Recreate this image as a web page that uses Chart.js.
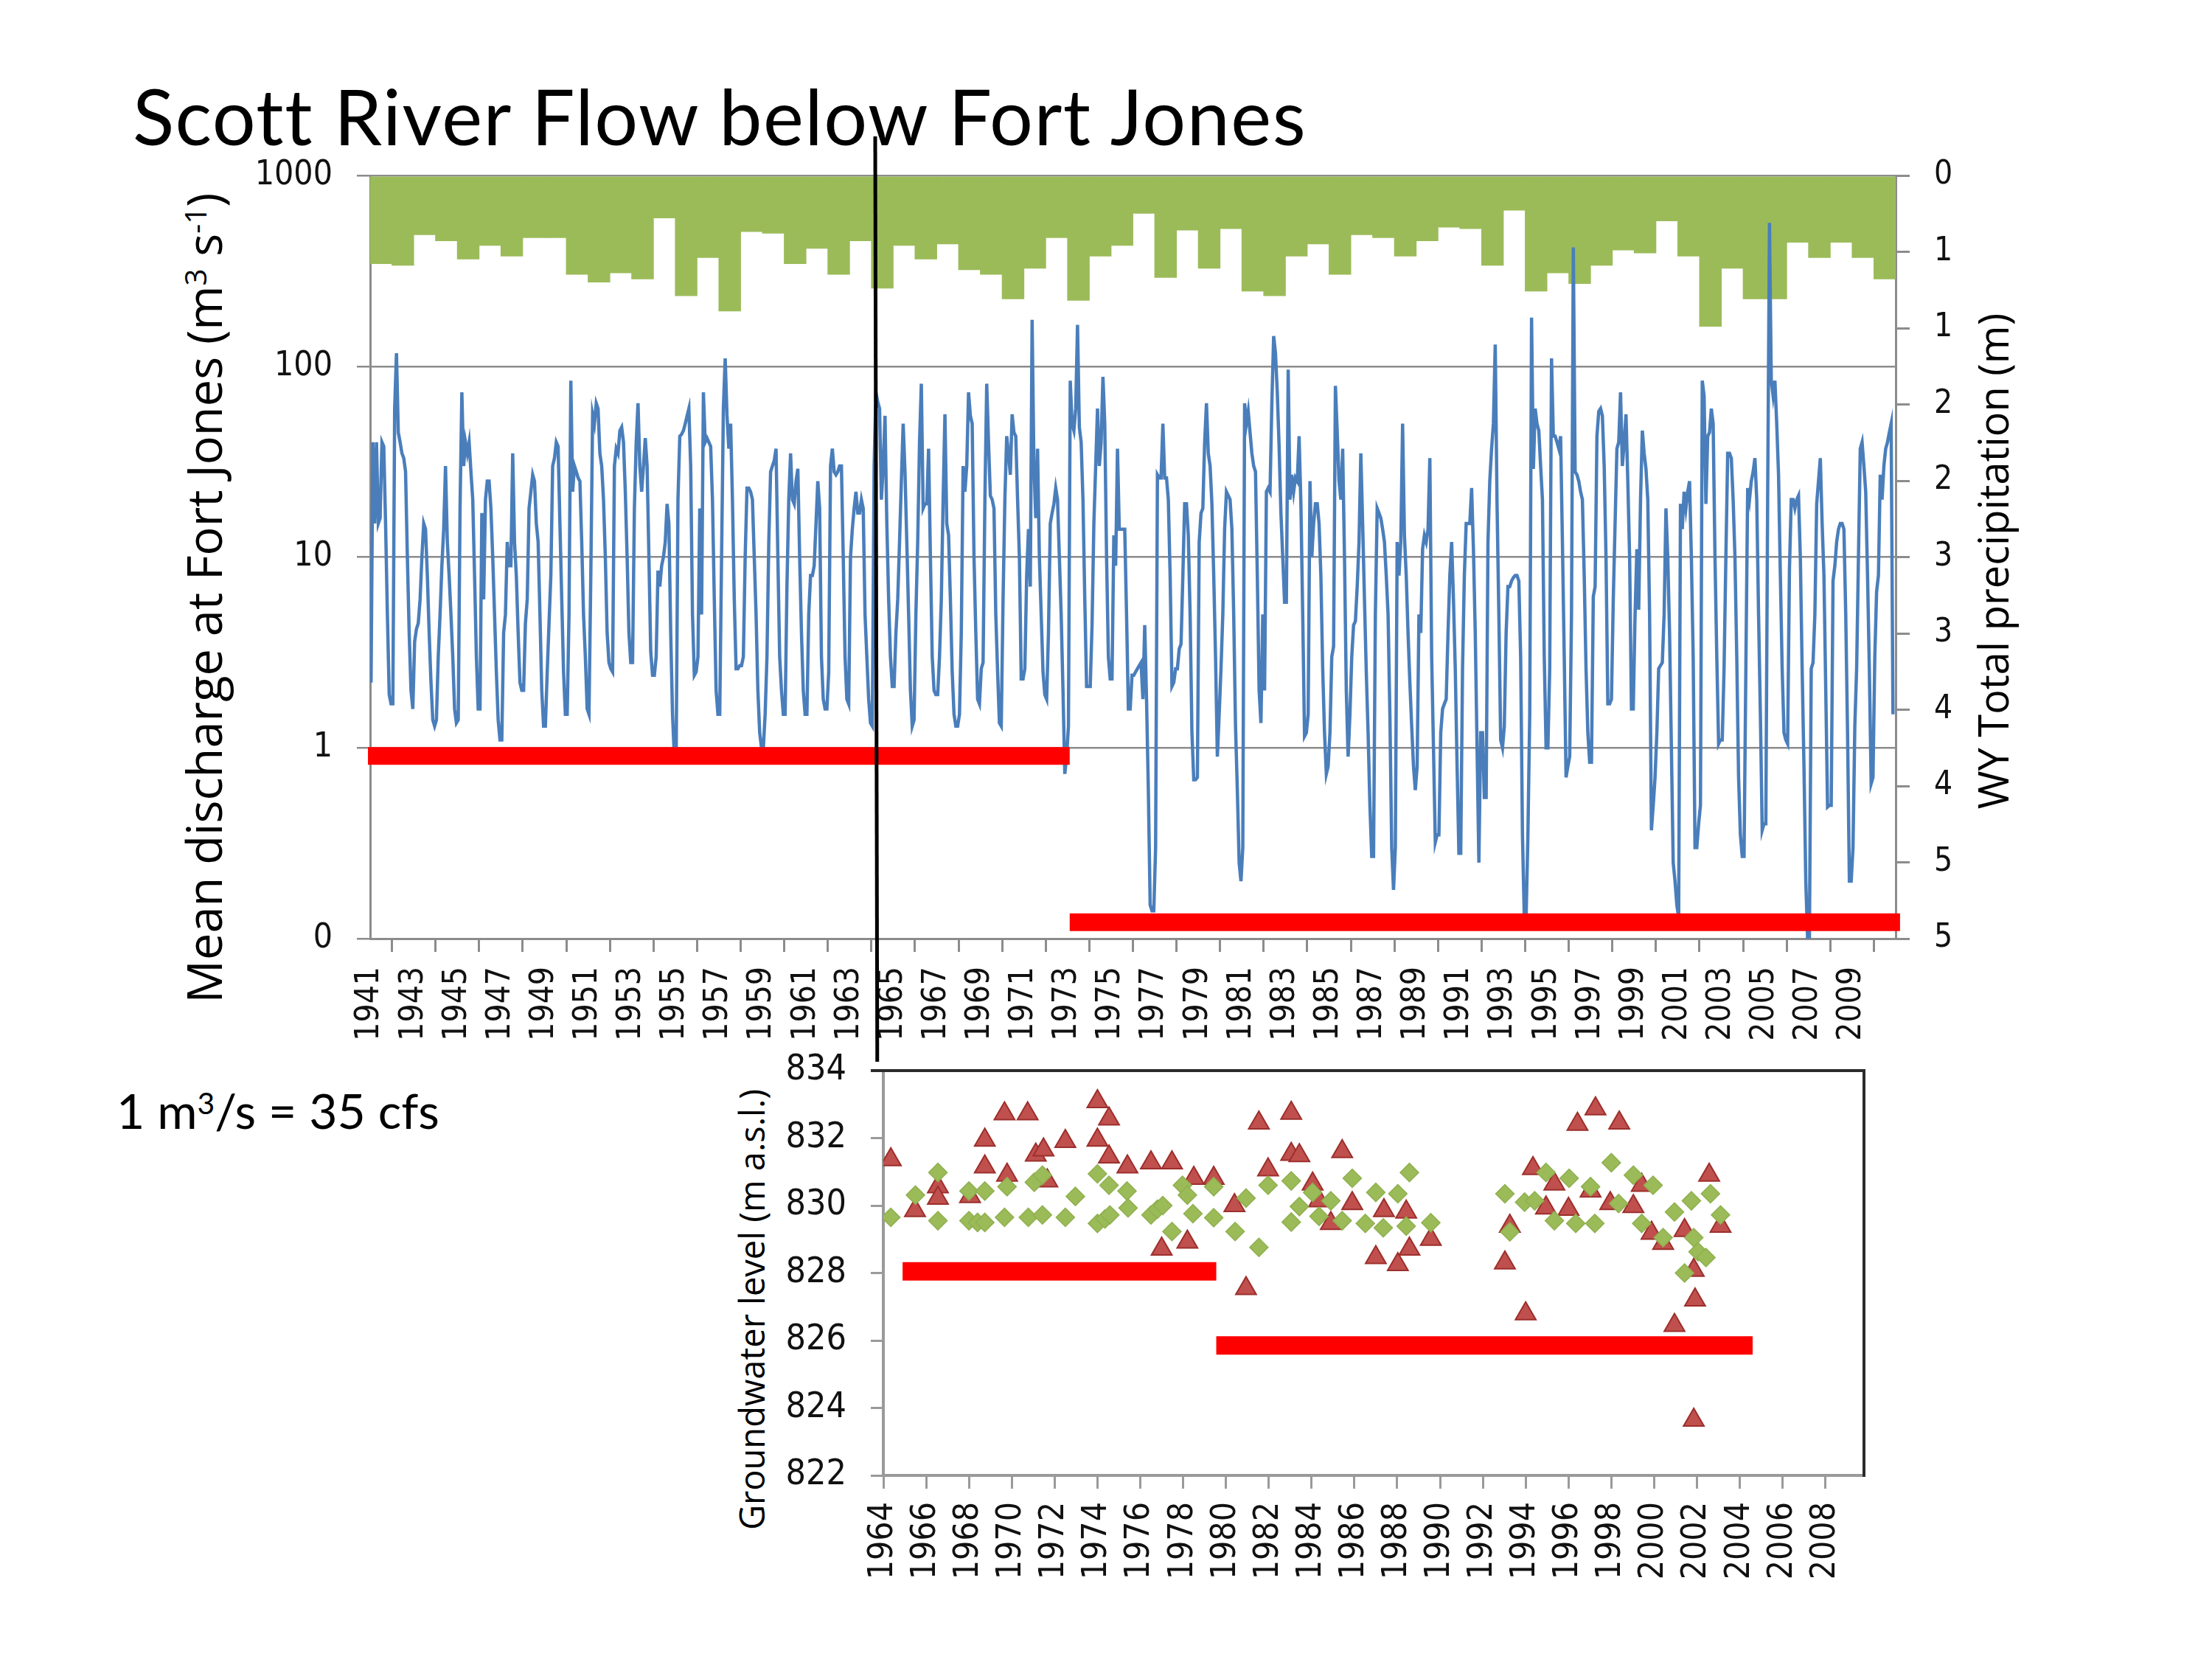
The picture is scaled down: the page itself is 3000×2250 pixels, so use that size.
<!DOCTYPE html>
<html><head><meta charset="utf-8">
<script src="https://cdn.jsdelivr.net/npm/chart.js@4.4.0/dist/chart.umd.min.js"></script>
<style>
html,body{margin:0;padding:0;background:#fff;}
#page{position:relative;width:3000px;height:2250px;overflow:hidden;background:#fff;}
canvas{position:absolute;}
#c1{left:0;top:0;z-index:3;}
#c2{left:900px;top:1420px;z-index:2;}
.txt{position:absolute;white-space:nowrap;line-height:1;color:#000;z-index:1;}
.rot{transform:translate(-50%,-50%) rotate(-90deg);}
sup{font-size:0.62em;vertical-align:0.5em;line-height:0;}
</style></head>
<body><div id="page">
<div class="txt" style="left:180px;top:105px;font-family:Lato;font-size:104px;letter-spacing:1.5px;">Scott River Flow below Fort Jones</div>
<div class="txt" style="left:158px;top:1473px;font-family:Lato;font-size:66px;">1 m<sup>3</sup>/s = 35 cfs</div>
<div class="txt rot" style="left:276px;top:811px;font-family:'Open Sans';font-size:65px;">Mean discharge at Fort Jones (m<sup>3</sup> s<sup>-1</sup>)</div>
<div class="txt rot" style="left:2702px;top:761px;font-family:'Open Sans';font-size:56px;">WY Total precipitation (m)</div>
<div class="txt rot" style="left:1019px;top:1776px;font-family:'Open Sans';font-size:47px;">Groundwater level (m a.s.l.)</div>
<canvas id="c1" width="3000" height="1460" style="width:3000px;height:1460px;"></canvas>
<canvas id="c2" width="1700" height="830" style="width:1700px;height:830px;"></canvas>
</div>
<script>
// ---------- DATA ----------
const years = [1941,1942,1943,1944,1945,1946,1947,1948,1949,1950,1951,1952,1953,1954,1955,1956,1957,1958,1959,1960,
  1961,1962,1963,1964,1965,1966,1967,1968,1969,1970,1971,1972,1973,1974,1975,1976,1977,1978,1979,1980,
  1981,1982,1983,1984,1985,1986,1987,1988,1989,1990,1991,1992,1993,1994,1995,1996,1997,1998,1999,2000,
  2001,2002,2003,2004,2005,2006,2007,2008,2009,2010];
// WY total precipitation (m), one per year
const precipitation = [0.58,0.59,0.39,0.43,0.55,0.46,0.53,0.41,0.41,0.65,0.70,0.64,0.68,0.28,0.79,0.54,0.89,0.37,0.38,0.58,
  0.48,0.65,0.43,0.74,0.46,0.55,0.45,0.62,0.65,0.81,0.61,0.41,0.82,0.53,0.46,0.25,0.67,0.36,0.61,0.35,
  0.76,0.79,0.53,0.45,0.65,0.39,0.41,0.53,0.43,0.34,0.35,0.59,0.23,0.76,0.64,0.71,0.59,0.49,0.51,0.30,
  0.53,0.99,0.61,0.81,0.81,0.44,0.54,0.44,0.54,0.68];
// Monthly mean discharge (m3/s), 12 values per year
const q1941_1950 = [
  2.2,40,15,40,15,16,40,38,15,5,1.9,1.7,
  1.7,60,117,45,40,35,33,28,10,4,2,1.6,
  3.6,4.2,4.5,6,10,15,14,8,4,2.2,1.4,1.3,
  1.4,3,5,9,14,30,12,8,5,3,1.6,1.35,
  1.4,18,73,30,40,35,40,28,20,8,3,1.6,
  1.6,17,6,20,25,25,18,10,5,2.5,1.4,1.1,
  1.1,4,5,12,9,9,35,12,8,4,2.2,2.0,
  2.0,4.5,6,18,22,27,25,15,12,5,2,1.3,
  1.3,2.5,4.5,8,30,33,40,38,15,6,2.5,1.5,
  1.5,5,84,22,30,28,26,25,12,5,3,1.6];
const q1951_1960 = [
  1.5,8,56,50,64,60,35,30,20,10,4,2.8,
  2.6,2.5,30,37,35,46,48,40,22,10,4,2.8,
  2.8,18,40,64,30,22,30,42,30,10,3.2,2.4,
  2.4,3,8.5,7,9,10,12,19,15,4,1.5,0.9,
  0.9,20,43,44,46,50,55,60,30,5,2.4,2.5,
  3,18,5,73,40,42,40,38,20,6,2,1.5,
  1.5,10,60,110,55,37,50,20,6,2.6,2.6,2.7,
  2.7,3,10,23,23,22,20,10,5,2,1.2,1.0,
  1.0,1.5,3,12,28,30,32,37,10,3,2,1.5,
  1.5,7,20,35,20,19,25,29,10,4,2,1.5];
const q1961_1970 = [
  1.5,5,8,8,9,15,25,18,3,1.8,1.6,1.6,
  2.5,30,37,28,27,28,30,30,10,3,1.8,1.7,
  10,14,18,22,17,17,20,18,5,3,1.8,1.35,
  1.3,30,73,65,60,20,30,55,15,6,3,2.1,
  2.1,4,6,12,25,50,28,12,5,2,1.3,1.4,
  5,12,40,81,18,19,19,37,10,3,2,1.9,
  1.9,3,6,20,56,15,13,6,2.5,1.5,1.3,1.3,
  1.5,4,30,22,30,73,55,50,10,4,1.8,1.7,
  2.6,2.8,20,81,40,21,20,18,5,2.5,1.35,1.3,
  6,20,43,35,27,56,45,43,20,10,2.3,2.3];
const q1971_1980 = [
  2.6,8,14,7,175,30,16,37,10,5,2.5,1.9,
  1.8,4,15,17,19,23,20,10,5,2,0.73,0.9,
  1.3,84,50,46,60,165,48,40,20,6,2.1,2.1,
  2.1,4.4,15,30,60,30,40,88,50,10,3,2.3,
  2.3,13,9,37,14,14,14,14,5,1.6,1.6,2.4,
  2.4,2.5,2.6,2.7,2.8,1.8,4.4,1.8,0.6,0.15,0.14,0.14,
  0.3,27,26,26,50,26,26,20,8,2.1,2.2,2.6,
  2.6,3.3,3.5,8,19,19,13,5,1.2,0.68,0.68,0.7,
  12,17,18,40,64,35,30,19,8,3,0.9,1.5,
  2.6,5,14,22,21,20,14,5,1.3,0.6,0.25,0.2];
const q1981_1990 = [
  0.3,64,50,58,45,35,30,28,8,2,1.35,5,
  2,22,23,22,64,144,117,73,38,17,10,5.8,
  5.8,96,20,27,22,26,25,43,19,5,1.15,1.2,
  1.5,25,10,15,19,19,15,8,2.6,1.2,0.73,0.8,
  1.2,3,3.4,79,45,25,20,37,10,2,0.9,1.5,
  3,4.4,4.6,7,12,35,15,6,2.5,1.2,0.5,0.27,
  0.27,5,18,17,16,14,12,8,5,1.5,0.3,0.18,
  0.3,12,8,12,50,13,8,4,2.2,1.3,0.8,0.6,
  0.8,5,4,11,13,12,14,33,3,1,0.32,0.35,
  0.35,1.2,1.6,1.7,1.8,4,8,12,6,2.6,0.8,0.28];
const q1991_2000 = [
  0.28,2.6,8,15,15,15,23,11,4,1,0.25,1.2,
  1.2,0.55,0.55,12,25,37,50,130,19,5,1.1,1.0,
  1.3,4,7,7,7.5,7.8,8,8,7.5,3,0.35,0.13,
  0.13,0.35,1.5,180,29,60,50,46,30,20,3,1.0,
  1.0,2.6,110,43,43,40,37,43,12,3,0.7,0.8,
  0.9,5,420,28,27,25,22,20,8,2.6,1.2,0.84,
  0.84,6.2,7,43,58,60,55,30,10,1.7,1.7,1.8,
  6,15,37,40,73,30,40,56,25,10,1.6,1.6,
  5,11,5.3,20,46,35,29,20,5,0.37,0.5,0.7,
  1.2,2.6,2.7,2.8,5,18,10,4,1,0.25,0.2,0.15];
const q2001_2010 = [
  0.13,19,14,22,18,22,25,10,3,0.3,0.3,0.4,
  0.5,84,70,19,43,45,60,50,10,3,1.05,1.1,
  1.1,2.6,10,35,35,33,20,10,3,0.7,0.35,0.27,
  0.27,2.6,23,20,25,28,33,20,5,1.5,0.37,0.4,
  0.4,20,565,84,70,84,50,27,8,2.6,1.2,1.1,
  1.05,8.6,20,20,18,20,21,10,2.6,0.8,0.2,0.1,
  0.1,2.6,2.8,5,19,25,33,15,8,2,0.49,0.5,
  0.5,7.5,9,12,14,15,15,14,5,1.2,0.2,0.2,
  0.3,1.3,2.6,10,37,40,30,22,8,2.6,0.65,0.7,
  3,6.6,8,27,20,30,37,40,45,50,1.5];
const upperTickYears = [1941,1943,1945,1947,1949,1951,1953,1955,1957,1959,1961,1963,1965,1967,1969,1971,1973,1975,1977,1979,
  1981,1983,1985,1987,1989,1991,1993,1995,1997,1999,2001,2003,2005,2007,2009];
const dischargeTicks = [0.1,1,10,100,1000];
// Red "period" bars (annotation), upper chart
const periodEarly = {from:1940.9, to:1973.1, level:0.906};
const periodLate  = {from:1973.1, to:2011.2, level:0.122};

// Groundwater levels (m a.s.l.)
const gwRedYears = [1964.35,1965.48,1966.55,1966.55,1968.05,1968.74,1968.74,1969.66,1969.78,1970.74,1971.12,1971.48,1971.66,1972.5,1974.0,1974.0,1974.54,1974.54,1975.4,1976.5,
  1977.0,1977.48,1978.2,1978.5,1979.43,1980.4,1980.94,1981.54,1981.97,1983.05,1983.05,1983.43,1984.05,1984.35,1984.9,1985.43,1985.9,1987.0,1987.38,1988.03,
  1988.42,1988.57,1989.57,1993.03,1993.26,1994.0,1994.34,1994.95,1995.34,1996.0,1996.42,1997.03,1997.26,1997.95,1998.37,1999.03,1999.42,1999.88,2000.42,2000.95,
  2001.42,2001.85,2001.91,2001.85,2002.57,2003.1];
const gwRedLevels = [831.36,829.85,830.56,830.22,830.27,831.94,831.15,832.72,830.9,832.72,831.5,831.65,830.73,831.9,833.08,831.94,832.57,831.44,831.15,831.27,
  828.71,831.27,828.92,830.81,830.81,830.0,827.54,832.45,831.06,832.74,831.52,831.48,830.64,830.14,829.47,831.6,830.06,828.46,829.85,828.25,
  829.81,828.71,829.0,828.3,829.39,826.79,831.1,829.93,830.64,829.89,832.41,830.43,832.87,830.06,832.45,829.97,830.6,829.18,828.88,826.45,
  829.26,828.08,827.2,823.64,830.9,829.39];
const gwGreenYears = [1964.35,1965.5,1966.55,1966.55,1968.0,1968.0,1968.4,1968.74,1968.74,1969.66,1969.78,1970.77,1971.05,1971.43,1971.43,1972.5,1972.97,1974.0,1974.0,1974.35,
  1974.58,1974.54,1975.38,1975.43,1976.5,1976.8,1977.05,1977.48,1977.97,1978.2,1978.46,1979.43,1979.43,1980.43,1980.94,1981.54,1981.97,1983.05,1983.05,1983.43,
  1984.05,1984.35,1984.9,1985.43,1985.9,1986.51,1987.0,1987.35,1988.03,1988.42,1988.57,1989.57,1993.03,1993.26,1993.95,1994.42,1994.95,1995.34,1996.03,1996.34,
  1997.03,1997.23,1998.0,1998.34,1999.03,1999.42,1999.95,2000.42,2000.95,2001.42,2001.74,2001.85,2002.05,2002.42,2002.63,2003.1];
const gwGreenLevels = [829.65,830.31,830.98,829.55,830.43,829.55,829.5,829.5,830.43,829.65,830.56,829.65,830.69,830.9,829.72,829.65,830.27,830.94,829.47,829.6,
  829.72,830.6,830.43,829.93,829.72,829.89,830.0,829.23,830.6,830.31,829.76,829.64,830.56,829.23,830.22,828.76,830.6,830.73,829.51,829.97,
  830.39,829.68,830.14,829.55,830.81,829.47,830.39,829.34,830.35,829.39,830.98,829.49,830.35,829.22,830.1,830.14,830.98,829.55,830.81,829.47,
  830.56,829.47,831.27,830.06,830.9,829.47,830.6,829.05,829.81,828.0,830.14,829.05,828.63,828.46,830.35,829.72];
const lowerTickYears = [1964,1966,1968,1970,1972,1974,1976,1978,1980,1982,1984,1986,1988,1990,1992,1994,1996,1998,2000,2002,2004,2006,2008];
const gwPeriodEarly = {from:1964.9, to:1979.55, level:828.05};
const gwPeriodLate  = {from:1979.55, to:2004.6, level:825.85};

// ---------- BUILD ----------
const TICK_FONT = "'DejaVu Sans Condensed', 'Liberation Sans', sans-serif";
Chart.defaults.color = '#111';
Chart.defaults.font.family = TICK_FONT;

const decades = [[1941,q1941_1950],[1951,q1951_1960],[1961,q1961_1970],[1971,q1971_1980],[1981,q1981_1990],[1991,q1991_2000],[2001,q2001_2010]];
const dischargePoints = [];
decades.forEach(([start, arr]) => arr.forEach((v, i) => dischargePoints.push({x: start + (i + 0.5) / 12, y: v})));
const precipPoints = years.map((y, i) => ({x: y + 0.5, y: precipitation[i]}));
const seg = p => [{x:p.from, y:p.level}, {x:p.to, y:p.level}];
const AXIS_GRAY = '#8c8c8c';
// fix a scale's box size and drop its automatic label padding
const fixBox = (prop, size) => s => { s[prop] = size; s.paddingTop = 0; s.paddingBottom = 0; s.paddingLeft = 0; s.paddingRight = 0; };

const dividerPlugin = {
  id: 'divider',
  afterDatasetsDraw(chart) {
    const xs = chart.scales.x, ctx = chart.ctx;
    const top = chart.chartArea.top - 53, bottom = chart.height - 20;
    ctx.save();
    ctx.strokeStyle = '#000'; ctx.lineWidth = 5;
    ctx.beginPath();
    ctx.moveTo(xs.getPixelForValue(1964.175), top);
    ctx.lineTo(xs.getPixelForValue(1964.27), bottom);
    ctx.stroke();
    ctx.restore();
  }
};

new Chart(document.getElementById('c1'), {
  type: 'line',
  data: {
    datasets: [
      {type:'bar', label:'WY Total precipitation', data: precipPoints, xAxisID:'x', yAxisID:'yP',
       backgroundColor:'#9BBB59', borderWidth:0, barPercentage:1.03, categoryPercentage:1, order:3},
      {type:'line', label:'Mean discharge', data: dischargePoints, xAxisID:'x', yAxisID:'y',
       borderColor:'#4A7EBB', borderWidth:4.5, pointRadius:0, tension:0, order:2},
      {type:'line', label:'period1', data: seg(periodEarly), xAxisID:'x', yAxisID:'y',
       borderColor:'#FF0000', borderWidth:24, pointRadius:0, borderCapStyle:'butt', clip:false, order:1},
      {type:'line', label:'period2', data: seg(periodLate), xAxisID:'x', yAxisID:'y',
       borderColor:'#FF0000', borderWidth:24, pointRadius:0, borderCapStyle:'butt', clip:false, order:1}
    ]
  },
  options: {
    responsive:false, animation:false, devicePixelRatio:1,
    layout:{autoPadding:false, padding:{top:238, left:0, right:0, bottom:0}},
    plugins:{legend:{display:false}, tooltip:{enabled:false}},
    scales:{
      x:{type:'linear', position:'bottom', min:1941, max:2011, offset:false,
        afterBuildTicks: s => { s.ticks = upperTickYears.map(v => ({value:v})); },
        afterFit: fixBox('height', 187),
        ticks:{autoSkip:false, minRotation:90, maxRotation:90, padding:20, color:'#111',
          font:{family:TICK_FONT, size:44}, callback: v => String(v)},
        grid:{drawOnChartArea:false, drawTicks:true, tickLength:18, color:AXIS_GRAY, lineWidth:3},
        border:{display:true, color:AXIS_GRAY, width:3}},
      y:{type:'logarithmic', position:'left', min:0.1, max:1000,
        afterBuildTicks: s => { s.ticks = dischargeTicks.map(v => ({value:v})); },
        afterFit: fixBox('width', 502),
        ticks:{autoSkip:false, padding:33, color:'#111', font:{family:TICK_FONT, size:46},
          callback: v => (v < 1 ? '0' : String(v))},
        grid:{color:AXIS_GRAY, lineWidth:2.5, drawTicks:true, tickLength:18},
        border:{display:true, color:AXIS_GRAY, width:3}},
      yP:{type:'linear', position:'right', reverse:true, min:0, max:5,
        afterFit: fixBox('width', 429),
        ticks:{stepSize:0.5, autoSkip:false, padding:33, color:'#111', font:{family:TICK_FONT, size:44},
          callback: v => String(Math.round(v))},
        grid:{drawOnChartArea:false, drawTicks:true, tickLength:19, color:AXIS_GRAY, lineWidth:3},
        border:{display:true, color:AXIS_GRAY, width:3}}
    }
  },
  plugins:[dividerPlugin]
});

const boxPlugin = {
  id:'box',
  afterDraw(chart){
    const {left, right, top, bottom} = chart.chartArea, ctx = chart.ctx;
    ctx.save();
    ctx.strokeStyle = '#2b2b2b'; ctx.lineWidth = 4;
    ctx.beginPath();
    ctx.moveTo(left - 17, top); ctx.lineTo(right, top); ctx.lineTo(right, bottom + 2);
    ctx.stroke();
    ctx.restore();
  }
};

new Chart(document.getElementById('c2'), {
  type:'line',
  data:{
    datasets:[
      {label:'period1', data: seg(gwPeriodEarly), borderColor:'#FF0000', borderWidth:25, pointRadius:0, borderCapStyle:'butt', order:0},
      {label:'period2', data: seg(gwPeriodLate), borderColor:'#FF0000', borderWidth:25, pointRadius:0, borderCapStyle:'butt', order:0},
      {label:'diamonds', data: gwGreenYears.map((x, i) => ({x, y: gwGreenLevels[i]})), showLine:false,
       pointStyle:'rectRot', pointRadius:12.5, backgroundColor:'#9BBB59', borderColor:'#8FB04E', borderWidth:1.5, order:1},
      {label:'triangles', data: gwRedYears.map((x, i) => ({x, y: gwRedLevels[i]})), showLine:false,
       pointStyle:'triangle', pointRadius:16, backgroundColor:'#C0504D', borderColor:'#9C2F2C', borderWidth:2, order:2}
    ]
  },
  options:{
    responsive:false, animation:false, devicePixelRatio:1,
    layout:{autoPadding:false, padding:{top:32, right:72, left:0, bottom:0}},
    plugins:{legend:{display:false}, tooltip:{enabled:false}},
    scales:{
      x:{type:'linear', min:1964, max:2009.8, offset:false,
        afterBuildTicks: s => { s.ticks = lowerTickYears.map(v => ({value:v})); },
        afterFit: fixBox('height', 249),
        ticks:{autoSkip:false, minRotation:90, maxRotation:90, padding:18, color:'#111',
          font:{family:TICK_FONT, size:46}, callback: v => String(v)},
        grid:{drawOnChartArea:false, drawTicks:true, tickLength:18, color:'#9a9a9a', lineWidth:3},
        border:{display:true, color:'#9a9a9a', width:4}},
      y:{type:'linear', min:822, max:834,
        afterFit: fixBox('width', 298),
        ticks:{stepSize:2, autoSkip:false, padding:33, color:'#111', font:{family:TICK_FONT, size:48},
          callback: v => String(v)},
        grid:{drawOnChartArea:false, drawTicks:true, tickLength:17, color:'#9a9a9a', lineWidth:3},
        border:{display:true, color:'#9a9a9a', width:4}}
    }
  },
  plugins:[boxPlugin]
});
</script>
</body></html>
